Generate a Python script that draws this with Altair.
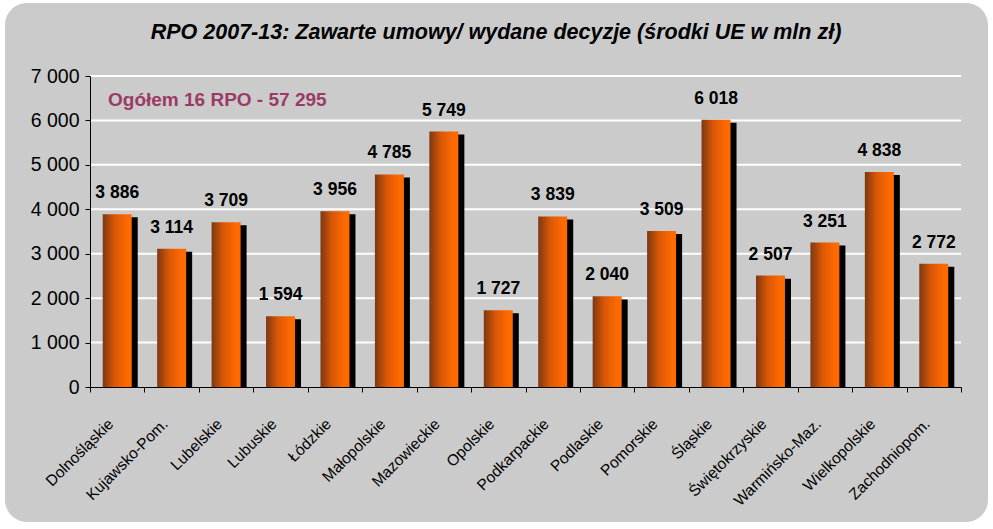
import altair as alt
import pandas as pd

regions = ["Dolnośląskie", "Kujawsko-Pom.", "Lubelskie", "Lubuskie", "Łódzkie",
           "Małopolskie", "Mazowieckie", "Opolskie", "Podkarpackie", "Podlaskie",
           "Pomorskie", "Śląskie", "Świętokrzyskie", "Warmińsko-Maz.",
           "Wielkopolskie", "Zachodniopom."]
values = [3886, 3114, 3709, 1594, 3956, 4785, 5749, 1727, 3839, 2040,
          3509, 6018, 2507, 3251, 4838, 2772]
grid_values = [1000, 2000, 3000, 4000, 5000, 6000, 7000]
title_text = "RPO 2007-13: Zawarte umowy/ wydane decyzje (środki UE w mln zł)"
note_text = "Ogółem 16 RPO - 57 295"

W, H = 871, 311
FONT = "Liberation Sans"

df = pd.DataFrame({"region": regions, "value": values})
grid_df = pd.DataFrame({"g": grid_values})

xenc = alt.X("region:N", sort=regions, title=None,
             scale=alt.Scale(paddingInner=0, paddingOuter=0),
             axis=alt.Axis(labelAngle=315, labelAlign="right", labelBaseline="middle",
                           labelFont=FONT, labelFontSize=15.5, labelColor="black",
                           labelPadding=29, labelOffset=-7,
                           domainColor="black", tickColor="black", tickSize=5,
                           tickBand="extent", grid=False, zindex=1))
yscale = alt.Scale(domain=[0, 7000], nice=False)
yaxis = alt.Axis(values=[0, 1000, 2000, 3000, 4000, 5000, 6000, 7000],
                 labelExpr="replace(format(datum.value, ','), ',', ' ')",
                 labelFont=FONT, labelFontSize=19.5, labelColor="black",
                 labelPadding=6, domainColor="black", tickColor="black",
                 tickSize=5, grid=False, zindex=1, title=None)

box = alt.Chart(pd.DataFrame({"a": [0]})).mark_rect(
    fill="#cbcbcb", cornerRadius=22
).encode(x=alt.value(-85), x2=alt.value(898), y=alt.value(-73), y2=alt.value(446))

title = alt.Chart(pd.DataFrame({"t": [title_text]})).mark_text(
    font=FONT, fontSize=21.5, fontWeight="bold", fontStyle="italic", color="black",
    align="center", baseline="alphabetic"
).encode(x=alt.value(406), y=alt.value(-37), text="t:N")

grid = alt.Chart(grid_df).mark_rule(color="white", strokeWidth=2).encode(
    y=alt.Y("g:Q", scale=yscale, axis=yaxis),
    x=alt.value(0), x2=alt.value(W))

shadow = alt.Chart(df).transform_calculate(
    sv="datum.value - 68"
).mark_bar(color="black", width=29, xOffset=6).encode(
    x=xenc, y=alt.Y("sv:Q", scale=yscale))

grad = alt.Gradient(gradient="linear", x1=0, x2=1, y1=0, y2=0,
                    stops=[alt.GradientStop(color="#7d3812", offset=0),
                           alt.GradientStop(color="#d95706", offset=0.4),
                           alt.GradientStop(color="#ff6a00", offset=0.85),
                           alt.GradientStop(color="#ff6a00", offset=1)])
bars = alt.Chart(df).mark_bar(color=grad, width=29).encode(
    x=alt.X("region:N", sort=regions), y=alt.Y("value:Q", scale=yscale))

labels = alt.Chart(df).transform_calculate(
    lab="replace(format(datum.value, ','), ',', ' ')"
).mark_text(font=FONT, fontSize=17.5, fontWeight="bold", color="black",
            baseline="alphabetic", dy=-16).encode(
    x=alt.X("region:N", sort=regions), y=alt.Y("value:Q", scale=yscale),
    text="lab:N")

note = alt.Chart(pd.DataFrame({"t": [note_text]})).mark_text(
    font=FONT, fontSize=19, fontWeight="bold", color="#9b3a66",
    align="left", baseline="alphabetic"
).encode(x=alt.value(18), y=alt.value(30), text="t:N")

chart = alt.layer(box, title, grid, shadow, bars, labels, note).properties(
    width=W, height=H,
    autosize=alt.AutoSizeParams(type="none"),
    padding={"left": 90, "top": 76, "right": 32, "bottom": 142},
    background="white"
).configure_view(stroke=None)

chart.save("out.html", embed_options={"renderer": "svg", "actions": False})
